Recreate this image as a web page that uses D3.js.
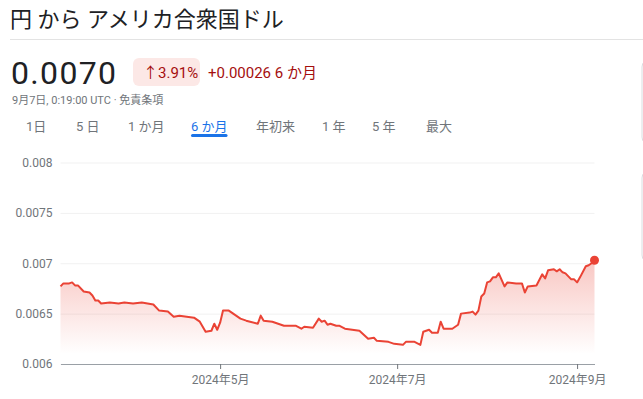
<!DOCTYPE html>
<html>
<head>
<meta charset="utf-8">
<script src="https://cdn.jsdelivr.net/npm/d3@7"></script>
<style>
  body { margin: 0; background: #fff; }
  svg { display: block; font-family: Roboto, "Noto Sans CJK JP", sans-serif; }
</style>
</head>
<body>
<svg id="chart"></svg>
<script>
const dates = [
  "2024-03-07","2024-03-08","2024-03-10","2024-03-11","2024-03-12","2024-03-13","2024-03-15",
  "2024-03-17","2024-03-18","2024-03-19","2024-03-20","2024-03-21","2024-03-24","2024-03-27",
  "2024-03-29","2024-04-01","2024-04-04","2024-04-08","2024-04-10","2024-04-13","2024-04-15",
  "2024-04-17","2024-04-22","2024-04-24","2024-04-26","2024-04-28","2024-04-29","2024-04-30",
  "2024-05-01","2024-05-02","2024-05-04","2024-05-08","2024-05-10","2024-05-14","2024-05-15",
  "2024-05-16","2024-05-19","2024-05-23","2024-05-27","2024-05-29","2024-05-30","2024-06-02",
  "2024-06-04","2024-06-05","2024-06-06","2024-06-07","2024-06-08","2024-06-10","2024-06-11",
  "2024-06-13","2024-06-18","2024-06-21","2024-06-23","2024-06-24","2024-06-28","2024-06-30",
  "2024-07-03","2024-07-04","2024-07-07","2024-07-09","2024-07-10","2024-07-12","2024-07-13",
  "2024-07-15","2024-07-16","2024-07-17","2024-07-20","2024-07-22","2024-07-23","2024-07-26",
  "2024-07-27","2024-07-28","2024-07-29","2024-07-30","2024-07-31","2024-08-01","2024-08-02",
  "2024-08-03","2024-08-04","2024-08-05","2024-08-07","2024-08-08","2024-08-11","2024-08-13",
  "2024-08-14","2024-08-15","2024-08-18","2024-08-20","2024-08-21","2024-08-22","2024-08-24",
  "2024-08-25","2024-08-26","2024-08-27","2024-08-28","2024-08-30","2024-08-31","2024-09-01",
  "2024-09-02","2024-09-04","2024-09-05","2024-09-06","2024-09-07"
];
const rates = [
  0.00677,0.00680,0.00680,0.00681,0.00678,0.00678,0.00672,
  0.00671,0.00668,0.00663,0.00663,0.00660,0.00661,0.00660,
  0.00661,0.00660,0.00661,0.00659,0.00653,0.00652,0.00647,
  0.00648,0.00646,0.00642,0.00632,0.00633,0.00640,0.00634,
  0.00641,0.00653,0.00653,0.00645,0.00643,0.00640,0.00648,
  0.00643,0.00642,0.00638,0.00638,0.00635,0.00637,0.00636,
  0.00645,0.00642,0.00643,0.00639,0.00640,0.00638,0.00638,
  0.00635,0.00633,0.00625,0.00626,0.00623,0.00622,0.00620,
  0.00619,0.00622,0.00622,0.00619,0.00632,0.00634,0.00631,
  0.00631,0.00642,0.00635,0.00635,0.00639,0.00650,0.00651,
  0.00652,0.00649,0.00653,0.00667,0.00670,0.00681,0.00682,
  0.00686,0.00686,0.00690,0.00677,0.00681,0.00680,0.00680,
  0.00671,0.00677,0.00678,0.00689,0.00685,0.00693,0.00694,
  0.00692,0.00694,0.00691,0.00690,0.00684,0.00684,0.00681,
  0.00686,0.00697,0.00698,0.00700,0.00703
];
const yTicks = [0.006, 0.0065, 0.007, 0.0075, 0.008];
const yTickLabels = ["0.006", "0.0065", "0.007", "0.0075", "0.008"];
const xTicks = ["2024-05-01", "2024-07-01", "2024-09-01"];
const xTickLabels = ["2024年5月", "2024年7月", "2024年9月"];
const ranges = ["1日", "5 日", "1 か月", "6 か月", "年初来", "1 年", "5 年", "最大"];
const activeRange = "6 か月";

const W = 643, H = 399;
const parse = d3.timeParse("%Y-%m-%d");
const data = dates.map((d, i) => ({ date: parse(d), v: rates[i] }));

const svg = d3.select("#chart").attr("width", W).attr("height", H);

// ---- header ----
svg.append("text").attr("x", 10).attr("y", 27)
  .style("font-size", "22px").attr("fill", "#202124")
  .text("円 から アメリカ合衆国ドル");
svg.append("line").attr("x1", 10).attr("x2", W).attr("y1", 39.5).attr("y2", 39.5)
  .attr("stroke", "#e3e3e3");

svg.append("text").attr("x", 11).attr("y", 83.5)
  .style("font-size", "32px").attr("fill", "#202124")
  .attr("textLength", 105).attr("lengthAdjust", "spacing")
  .text("0.0070");

svg.append("rect").attr("x", 133).attr("y", 58).attr("width", 67).attr("height", 28)
  .attr("rx", 6).attr("fill", "#fce8e6");
svg.append("text").attr("x", 143).attr("y", 77.5)
  .style("font-size", "15px").attr("fill", "#a50e0e")
  .text("↑3.91%");
svg.append("text").attr("x", 208).attr("y", 77.5)
  .style("font-size", "15px").attr("fill", "#a50e0e")
  .text("+0.00026 6 か月");

svg.append("text").attr("x", 12).attr("y", 104)
  .style("font-size", "11px").attr("fill", "#70757a")
  .text("9月7日, 0:19:00 UTC · 免責条項");

const tabX = [26, 76, 128, 191, 256, 322, 372, 426];
const tabs = svg.append("g");
ranges.forEach((r, i) => {
  const t = tabs.append("text").attr("x", tabX[i]).attr("y", 131)
    .style("font-size", "13px")
    .attr("fill", r === activeRange ? "#1a73e8" : "#70757a")
    .text(r);
  if (r === activeRange) {
    const w = t.node().getComputedTextLength();
    tabs.append("rect").attr("x", tabX[i]).attr("y", 134).attr("width", w)
      .attr("height", 3).attr("rx", 1.5).attr("fill", "#1a73e8");
  }
});

// side panels cut off at the right edge
svg.append("rect").attr("x", 642).attr("y", 59).attr("width", 20).attr("height", 86)
  .attr("rx", 8).attr("fill", "none").attr("stroke", "#dadce0");
svg.append("rect").attr("x", 642).attr("y", 170).attr("width", 20).attr("height", 93)
  .attr("rx", 8).attr("fill", "none").attr("stroke", "#dadce0");

// ---- chart ----
const plotLeft = 60.5, plotRight = 594.5, plotTop = 162.5, plotBottom = 364;

const x = d3.scaleTime()
  .domain(d3.extent(data, d => d.date))
  .range([plotLeft, plotRight]);
const y = d3.scaleLinear()
  .domain([0.006, 0.008])
  .range([plotBottom, plotTop]);

const yAxis = d3.axisLeft(y)
  .tickValues(yTicks)
  .tickFormat((d, i) => yTickLabels[i])
  .tickSizeInner(-(plotRight - plotLeft))
  .tickSizeOuter(0)
  .tickPadding(8);

const gy = svg.append("g").attr("transform", "translate(" + plotLeft + ",0)").call(yAxis);
gy.select(".domain").remove();
gy.selectAll(".tick line").attr("stroke", "#f1f1f1");
gy.selectAll(".tick text").attr("fill", "#70757a")
  .style("font-size", "12px").style("font-family", "Roboto, sans-serif");

const defs = svg.append("defs");
const grad = defs.append("linearGradient").attr("id", "fillGrad")
  .attr("gradientUnits", "userSpaceOnUse")
  .attr("x1", 0).attr("x2", 0)
  .attr("y1", y(d3.max(rates))).attr("y2", plotBottom - 10);
grad.append("stop").attr("offset", 0).attr("stop-color", "#ea4335").attr("stop-opacity", 0.3);
grad.append("stop").attr("offset", 1).attr("stop-color", "#ea4335").attr("stop-opacity", 0);

const area = d3.area()
  .x(d => x(d.date))
  .y0(plotBottom)
  .y1(d => y(d.v));
const line = d3.line()
  .x(d => x(d.date))
  .y(d => y(d.v));

svg.append("path").datum(data).attr("d", area).attr("fill", "url(#fillGrad)");

const xAxis = d3.axisBottom(x)
  .tickValues(xTicks.map(parse))
  .tickFormat((d, i) => xTickLabels[i])
  .tickSizeInner(5)
  .tickSizeOuter(0)
  .tickPadding(6);

const gx = svg.append("g").attr("transform", "translate(0," + plotBottom + ")").call(xAxis);
gx.select(".domain").attr("stroke", "#9aa0a6");
gx.selectAll(".tick line").attr("stroke", "#70757a");
gx.selectAll(".tick text").attr("fill", "#70757a").style("font-size", "12px")
  .style("font-family", "Roboto, 'Noto Sans CJK JP', sans-serif");

svg.append("path").datum(data).attr("d", line)
  .attr("fill", "none").attr("stroke", "#ea4335")
  .attr("stroke-width", 2).attr("stroke-linejoin", "round");

const last = data[data.length - 1];
svg.append("circle").attr("cx", x(last.date)).attr("cy", y(last.v))
  .attr("r", 4.5).attr("fill", "#ea4335");
</script>
</body>
</html>
